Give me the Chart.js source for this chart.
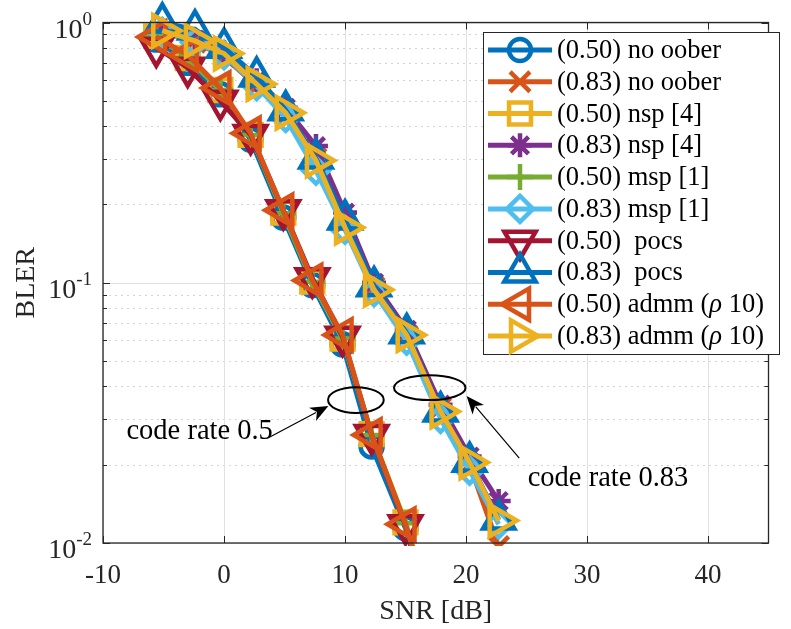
<!DOCTYPE html>
<html><head><meta charset="utf-8">
<script src="https://cdn.jsdelivr.net/npm/chart.js@4.4.1/dist/chart.umd.min.js"></script>
<style>html,body{margin:0;padding:0;background:#fff}canvas{display:block}</style>
</head><body>
<canvas id="c" width="791" height="629" style="width:791px;height:629px"></canvas>
<script>
// ---------------- data ----------------
const snr05  = [-5.6, -3, -0.3, 2.2, 4.9, 7.3, 9.8, 12.2, 15, 17.5];
const snr083 = [-5.1, -2.4, 0, 2.7, 5.1, 7.6, 10, 12.4, 15.1, 17.9, 20.3, 22.7];

const blerNoOober05  = [0.86, 0.70, 0.53, 0.355, 0.178, 0.098, 0.058, 0.0235, 0.0114, 0.0046];
const blerNoOober083 = [0.92, 0.84, 0.74, 0.57, 0.44, 0.30, 0.17, 0.096, 0.063, 0.033, 0.0200, 0.0097];
const blerNsp05      = [0.89, 0.73, 0.55, 0.37, 0.186, 0.101, 0.061, 0.0262, 0.0120, 0.0050];
const blerNsp083     = [0.93, 0.86, 0.77, 0.60, 0.47, 0.335, 0.186, 0.100, 0.066, 0.034, 0.0215, 0.0145];
const blerMsp05      = [0.89, 0.73, 0.55, 0.37, 0.185, 0.101, 0.061, 0.026, 0.0119, 0.0049];
const blerMsp083     = [0.92, 0.84, 0.75, 0.57, 0.43, 0.27, 0.16, 0.092, 0.060, 0.030, 0.019, 0.0118];
const blerPocs05     = [0.80, 0.67, 0.50, 0.37, 0.19, 0.104, 0.062, 0.026, 0.0117, 0.0047];
const blerPocs083    = [1.0, 0.94, 0.80, 0.62, 0.46, 0.30, 0.175, 0.097, 0.064, 0.032, 0.0205, 0.0123];
const blerAdmm05     = [0.88, 0.75, 0.56, 0.375, 0.19, 0.102, 0.063, 0.026, 0.0118, 0.0048];
const blerAdmm083    = [0.93, 0.85, 0.76, 0.58, 0.45, 0.295, 0.163, 0.094, 0.063, 0.032, 0.0204, 0.0122];

const seriesLabels = ['(0.50) no oober', '(0.83) no oober', '(0.50) nsp [4]', '(0.83) nsp [4]',
  '(0.50) msp [1]', '(0.83) msp [1]', '(0.50)  pocs', '(0.83)  pocs',
  '(0.50) admm (ρ 10)', '(0.83) admm (ρ 10)'];

const xTicks = [-10, 0, 10, 20, 30, 40];
const yTicks = [0.01, 0.1, 1];
const yTickExp = ['-2', '-1', '0'];
const xTitle = 'SNR [dB]';
const yTitle = 'BLER';
const note05 = 'code rate 0.5';
const note083 = 'code rate 0.83';

// ---------------- styles ----------------
const colors = ['#0072BD', '#D95319', '#EDB120', '#7E2F8E', '#77AC30', '#4DBEEE', '#A2142F', '#0072BD', '#D95319', '#EDB120'];
const markers = [
  {s: 'circle', r: 11, rot: 0}, {s: 'crossRot', r: 14, rot: 0}, {s: 'rect', r: 15.5, rot: 0},
  {s: 'star', r: 12, rot: 0}, {s: 'cross', r: 13, rot: 0}, {s: 'rectRot', r: 13, rot: 0},
  {s: 'triangle', r: 18, rot: 180}, {s: 'triangle', r: 18, rot: 0},
  {s: 'triangle', r: 18, rot: 270}, {s: 'triangle', r: 18, rot: 90}
];
const xs = [snr05, snr083, snr05, snr083, snr05, snr083, snr05, snr083, snr05, snr083];
const ys = [blerNoOober05, blerNoOober083, blerNsp05, blerNsp083, blerMsp05, blerMsp083, blerPocs05, blerPocs083, blerAdmm05, blerAdmm083];

const FONT = '"Liberation Serif", "Times New Roman", serif';
const AX = '#262626';

const datasets = seriesLabels.map((lab, i) => ({
  label: lab,
  data: xs[i].map((x, k) => ({x: x, y: ys[i][k]})),
  borderColor: colors[i],
  backgroundColor: colors[i],
  borderWidth: 5,
  pointStyle: markers[i].s,
  pointRadius: markers[i].r,
  pointRotation: markers[i].rot,
  pointBorderWidth: 4.5,
  pointBorderColor: colors[i],
  pointBackgroundColor: 'rgba(0,0,0,0)',
  pointHoverRadius: markers[i].r,
  tension: 0,
  order: seriesLabels.length - i,
  clip: {left: false, top: false, right: false, bottom: 3}
}));

function drawMarker(ctx, style, rot, r, x, y) {
  let a = rot * Math.PI / 180;
  ctx.beginPath();
  if (style === 'circle') { ctx.arc(x, y, r, 0, 2 * Math.PI); ctx.closePath(); }
  else if (style === 'triangle') {
    ctx.moveTo(x + Math.sin(a) * r, y - Math.cos(a) * r);
    a += 2 * Math.PI / 3; ctx.lineTo(x + Math.sin(a) * r, y - Math.cos(a) * r);
    a += 2 * Math.PI / 3; ctx.lineTo(x + Math.sin(a) * r, y - Math.cos(a) * r);
    ctx.closePath();
  } else if (style === 'rect') {
    const s = Math.SQRT1_2 * r; ctx.rect(x - s, y - s, 2 * s, 2 * s);
  } else if (style === 'rectRot') {
    ctx.moveTo(x - r, y); ctx.lineTo(x, y - r); ctx.lineTo(x + r, y); ctx.lineTo(x, y + r); ctx.closePath();
  } else {
    const d = Math.SQRT1_2 * r;
    if (style === 'cross' || style === 'star') { ctx.moveTo(x, y - r); ctx.lineTo(x, y + r); ctx.moveTo(x - r, y); ctx.lineTo(x + r, y); }
    if (style === 'crossRot' || style === 'star') { ctx.moveTo(x - d, y - d); ctx.lineTo(x + d, y + d); ctx.moveTo(x - d, y + d); ctx.lineTo(x + d, y - d); }
  }
  ctx.stroke();
}

function drawRich(ctx, text, x, y, size) {
  const parts = text.split('ρ');
  let cx = x;
  parts.forEach((p, idx) => {
    ctx.font = size + 'px ' + FONT;
    ctx.fillText(p, cx, y);
    cx += ctx.measureText(p).width;
    if (idx < parts.length - 1) {
      ctx.font = 'italic ' + size + 'px ' + FONT;
      ctx.fillText('ρ', cx, y);
      cx += ctx.measureText('ρ').width;
    }
  });
}

const backdrop = {
  id: 'backdrop',
  beforeDatasetsDraw(chart) {
    const {ctx, chartArea: a, scales: {x, y}} = chart;
    ctx.save();
    ctx.strokeStyle = '#d4d4d4'; ctx.lineWidth = 1; ctx.setLineDash([2, 4]);
    for (let d = 0; d < yTicks.length - 1; d++) {
      for (let m = 2; m <= 9; m++) {
        const py = Math.round(y.getPixelForValue(yTicks[d] * m)) + 0.5;
        ctx.beginPath(); ctx.moveTo(a.left, py); ctx.lineTo(a.right, py); ctx.stroke();
      }
    }
    ctx.setLineDash([]);
    ctx.strokeStyle = '#e0e0e0';
    xTicks.forEach(v => {
      const px = Math.round(x.getPixelForValue(v)) + 0.5;
      ctx.beginPath(); ctx.moveTo(px, a.top); ctx.lineTo(px, a.bottom); ctx.stroke();
    });
    yTicks.forEach(v => {
      const py = Math.round(y.getPixelForValue(v)) + 0.5;
      ctx.beginPath(); ctx.moveTo(a.left, py); ctx.lineTo(a.right, py); ctx.stroke();
    });
    ctx.restore();
  },
  afterDatasetsDraw(chart) {
    const {ctx, chartArea: a, scales: {x, y}} = chart;
    ctx.save();
    ctx.strokeStyle = AX; ctx.lineWidth = 1.3;
    ctx.strokeRect(a.left, a.top, a.right - a.left, a.bottom - a.top);
    ctx.lineWidth = 1;
    xTicks.forEach(v => {
      const px = Math.round(x.getPixelForValue(v)) + 0.5;
      ctx.beginPath(); ctx.moveTo(px, a.bottom); ctx.lineTo(px, a.bottom - 7);
      ctx.moveTo(px, a.top); ctx.lineTo(px, a.top + 7); ctx.stroke();
    });
    yTicks.forEach(v => {
      const py = Math.round(y.getPixelForValue(v)) + 0.5;
      ctx.beginPath(); ctx.moveTo(a.left, py); ctx.lineTo(a.left + 7, py);
      ctx.moveTo(a.right, py); ctx.lineTo(a.right - 7, py); ctx.stroke();
    });
    for (let d = 0; d < yTicks.length - 1; d++) {
      for (let m = 2; m <= 9; m++) {
        const py = Math.round(y.getPixelForValue(yTicks[d] * m)) + 0.5;
        ctx.beginPath(); ctx.moveTo(a.left, py); ctx.lineTo(a.left + 4, py);
        ctx.moveTo(a.right, py); ctx.lineTo(a.right - 4, py); ctx.stroke();
      }
    }
    ctx.fillStyle = AX;
    ctx.font = '27px ' + FONT;
    ctx.textAlign = 'center'; ctx.textBaseline = 'alphabetic';
    xTicks.forEach(v => ctx.fillText(String(v), x.getPixelForValue(v), a.bottom + 40));
    yTicks.forEach((v, i) => {
      const py = y.getPixelForValue(v);
      ctx.font = '19px ' + FONT;
      const ew = ctx.measureText(yTickExp[i]).width;
      const right = a.left - 11;
      ctx.textAlign = 'left';
      ctx.fillText(yTickExp[i], right - ew, py + 2);
      ctx.font = '28px ' + FONT;
      ctx.textAlign = 'right';
      ctx.fillText('10', right - ew, py + 15);
    });
    ctx.textAlign = 'center';
    ctx.font = '28px ' + FONT;
    ctx.fillText(xTitle, (a.left + a.right) / 2, 619);
    ctx.save();
    ctx.translate(34, (a.top + a.bottom) / 2);
    ctx.rotate(-Math.PI / 2);
    ctx.fillText(yTitle, 0, 0);
    ctx.restore();

    ctx.strokeStyle = '#000'; ctx.fillStyle = '#000';
    const ell = (x0, x1, y0, y1) => {
      const px0 = x.getPixelForValue(x0), px1 = x.getPixelForValue(x1);
      const py0 = y.getPixelForValue(y0), py1 = y.getPixelForValue(y1);
      ctx.lineWidth = 2;
      ctx.beginPath();
      ctx.ellipse((px0 + px1) / 2, (py0 + py1) / 2, Math.abs(px1 - px0) / 2, Math.abs(py1 - py0) / 2, 0, 0, 2 * Math.PI);
      ctx.stroke();
    };
    ell(8.6, 13.2, 0.0316, 0.0397);
    ell(14.05, 19.96, 0.0354, 0.0441);
    const arrow = (xa, ya, xb, yb) => {
      const ax = x.getPixelForValue(xa), ay = y.getPixelForValue(ya);
      const bx = x.getPixelForValue(xb), by = y.getPixelForValue(yb);
      const ang = Math.atan2(by - ay, bx - ax);
      const L = 18, W = 7.5;
      const hx = bx - Math.cos(ang) * L, hy = by - Math.sin(ang) * L;
      ctx.lineWidth = 1.2;
      ctx.beginPath(); ctx.moveTo(ax, ay); ctx.lineTo(hx + Math.cos(ang) * 4, hy + Math.sin(ang) * 4); ctx.stroke();
      ctx.beginPath();
      ctx.moveTo(bx, by);
      ctx.lineTo(hx - Math.sin(ang) * W, hy + Math.cos(ang) * W);
      ctx.lineTo(hx + Math.cos(ang) * 5, hy + Math.sin(ang) * 5);
      ctx.lineTo(hx + Math.sin(ang) * W, hy - Math.cos(ang) * W);
      ctx.closePath(); ctx.fill();
    };
    arrow(3.75, 0.0255, 8.63, 0.0336);
    arrow(24.4, 0.0212, 20.05, 0.0367);
    ctx.font = '28.5px ' + FONT;
    ctx.textAlign = 'left';
    ctx.fillText(note05, x.getPixelForValue(-8.06), y.getPixelForValue(0.0252));
    ctx.fillText(note083, x.getPixelForValue(25.1), y.getPixelForValue(0.0166));
    ctx.restore();
  },
  afterDraw(chart) {
    const ctx = chart.ctx;
    ctx.save();
    const L = 483, T = 32, R = 779, B = 354;
    ctx.fillStyle = '#fff';
    ctx.fillRect(L, T, R - L, B - T);
    ctx.strokeStyle = AX; ctx.lineWidth = 1;
    ctx.strokeRect(L + 0.5, T + 0.5, R - L, B - T);
    const step = (B - T - 36) / 9;
    seriesLabels.forEach((lab, i) => {
      const cy = 50 + i * step;
      ctx.strokeStyle = colors[i];
      ctx.lineWidth = 5;
      ctx.beginPath(); ctx.moveTo(488, cy); ctx.lineTo(552, cy); ctx.stroke();
      ctx.lineWidth = 4.5;
      drawMarker(ctx, markers[i].s, markers[i].rot, markers[i].r, 520, cy);
      ctx.fillStyle = '#000';
      ctx.textAlign = 'left'; ctx.textBaseline = 'middle';
      drawRich(ctx, lab, 557, cy + 1, 26.5);
    });
    ctx.restore();
  }
};

new Chart(document.getElementById('c'), {
  type: 'line',
  data: {datasets: datasets},
  options: {
    responsive: false,
    animation: false,
    devicePixelRatio: 1,
    layout: {padding: {left: 103, right: 9, top: 22, bottom: 86}},
    plugins: {legend: {display: false}, tooltip: {enabled: false}},
    scales: {
      x: {type: 'linear', min: -10, max: 45, display: false},
      y: {type: 'logarithmic', min: 0.01, max: 1, display: false}
    }
  },
  plugins: [backdrop]
});
</script>
</body></html>
